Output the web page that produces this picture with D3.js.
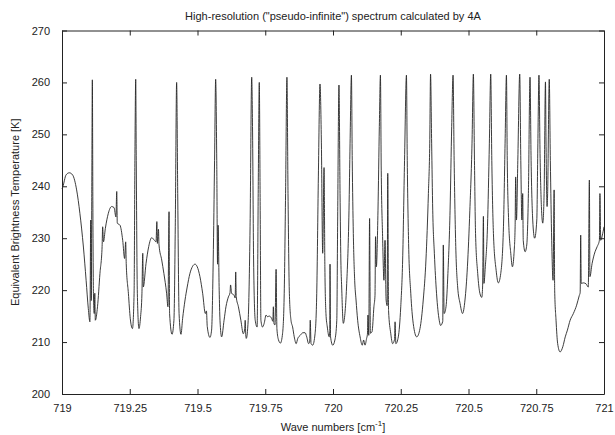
<!DOCTYPE html>
<html>
<head>
<meta charset="utf-8">
<script src="https://cdn.jsdelivr.net/npm/d3@7"></script>
<style>
  body { margin: 0; background: #fff; }
  svg { font-family: "Liberation Sans", Arial, sans-serif; }
</style>
</head>
<body>
<svg id="chart" width="615" height="435"></svg>
<script>
// spectrum: wave number [cm-1] and brightness temperature [K]
const waveNumbers = [
  719.000, 719.003, 719.015, 719.027, 719.039, 719.054, 719.066, 719.079, 719.089, 719.097,
  719.103, 719.106, 719.108, 719.110, 719.112, 719.114, 719.116, 719.119, 719.121, 719.123,
  719.131, 719.140, 719.148, 719.150, 719.153, 719.160, 719.171, 719.183, 719.192, 719.199,
  719.202, 719.204, 719.214, 719.224, 719.231, 719.235, 719.237, 719.245, 719.252, 719.260,
  719.266, 719.269, 719.272, 719.274, 719.278, 719.284, 719.290, 719.295, 719.298, 719.300,
  719.310, 719.320, 719.331, 719.341, 719.347, 719.350, 719.352, 719.356, 719.358, 719.368,
  719.376, 719.386, 719.391, 719.395, 719.397, 719.406, 719.413, 719.418, 719.423, 719.427,
  719.432, 719.439, 719.445, 719.454, 719.462, 719.472,
  719.482, 719.491, 719.499, 719.509, 719.519, 719.529, 719.533, 719.536, 719.546, 719.552,
  719.558, 719.563, 719.567, 719.571, 719.574, 719.576, 719.580, 719.583, 719.589, 719.598,
  719.605, 719.614, 719.620, 719.622, 719.626, 719.635, 719.639, 719.641, 719.643, 719.651,
  719.660, 719.669, 719.674, 719.676, 719.678, 719.680, 719.687, 719.694, 719.700, 719.703,
  719.707, 719.713, 719.720, 719.724, 719.728, 719.731, 719.734, 719.740, 719.746, 719.753,
  719.758, 719.765, 719.774, 719.778, 719.780, 719.782, 719.786, 719.790, 719.793, 719.799,
  719.806, 719.814, 719.820, 719.825, 719.830, 719.834, 719.839, 719.845, 719.851, 719.857,
  719.864, 719.870, 719.879, 719.889, 719.897, 719.903, 719.910, 719.914, 719.916, 719.919,
  719.925, 719.934, 719.940, 719.946, 719.952, 719.957, 719.962,
  719.967, 719.970, 719.974, 719.979, 719.986, 719.988, 719.989, 719.991, 719.999, 720.007,
  720.014, 720.017, 720.022, 720.026, 720.029, 720.032, 720.038, 720.044, 720.050, 720.059,
  720.063, 720.068, 720.071, 720.075, 720.080, 720.085, 720.091, 720.100, 720.108, 720.113,
  720.118, 720.124, 720.127, 720.129, 720.132, 720.135, 720.138, 720.144, 720.151, 720.155,
  720.157, 720.160, 720.166, 720.171, 720.175, 720.178, 720.183, 720.188, 720.192, 720.196,
  720.200, 720.202, 720.205, 720.213, 720.220, 720.227, 720.229, 720.232, 720.241, 720.250,
  720.257, 720.264, 720.271, 720.274, 720.279, 720.287, 720.296, 720.309, 720.321, 720.333,
  720.343, 720.352, 720.357, 720.360, 720.364, 720.368, 720.374, 720.382, 720.392, 720.397,
  720.405, 720.407, 720.410, 720.417, 720.424, 720.432, 720.438, 720.443, 720.447, 720.453,
  720.460, 720.469,
  720.478, 720.487, 720.496, 720.505, 720.513, 720.518, 720.522, 720.526, 720.534, 720.542,
  720.549, 720.552, 720.555, 720.557, 720.562, 720.570, 720.577, 720.582, 720.586, 720.592,
  720.602, 720.610, 720.619, 720.629, 720.635, 720.640, 720.643, 720.648, 720.656, 720.662,
  720.668, 720.672, 720.674, 720.677, 720.682, 720.689, 720.693, 720.697, 720.700, 720.702,
  720.709, 720.715, 720.721, 720.727, 720.731, 720.737, 720.744, 720.752, 720.756, 720.760,
  720.764, 720.769, 720.774, 720.779, 720.784, 720.786, 720.790, 720.792, 720.798, 720.802,
  720.807, 720.812, 720.816, 720.818, 720.823, 720.829, 720.838, 720.848, 720.857, 720.865,
  720.875, 720.887, 720.899, 720.909, 720.912, 720.914, 720.916, 720.924, 720.934, 720.942,
  720.946, 720.948, 720.956, 720.967, 720.975, 720.983, 720.985, 720.988, 720.994, 721.000
];
const brightnessTemps = [
  239.5, 239.9, 242.2, 242.6, 242.2, 239.3, 234.8, 228.3, 221.9, 216.5,
  213.9, 233.5, 218.0, 240.0, 260.5, 235.0, 219.4, 215.5, 219.4, 214.2,
  216.8, 223.2, 228.4, 232.2, 229.3, 231.9, 234.8, 236.1, 235.9, 234.1,
  239.0, 232.9, 232.5, 229.6, 226.1, 229.3, 225.1, 219.4, 214.5, 212.6,
  219.4, 245.0, 260.6, 245.0, 219.4, 212.6, 214.9, 219.4, 227.1, 220.6,
  225.1, 228.4, 230.1, 229.6, 229.3, 233.2, 229.0, 231.7, 228.7, 225.8,
  223.2, 219.4, 216.8, 235.1, 215.5, 211.5, 214.2, 232.2, 260.0, 238.6,
  215.5, 211.5, 214.5, 218.1, 220.6, 223.2,
  224.6, 225.0, 224.5, 222.6, 219.4, 215.5, 216.0, 213.0, 210.9, 212.3,
  225.8, 245.0, 260.6, 245.0, 225.0, 232.5, 220.0, 214.2, 211.0, 214.2,
  216.8, 218.7, 219.5, 221.0, 219.4, 219.0, 218.5, 223.5, 218.7, 216.8,
  214.2, 211.6, 212.5, 214.2, 211.5, 210.7, 214.2, 232.2, 261.0, 251.5,
  225.8, 214.2, 212.9, 238.6, 260.0, 238.6, 214.2, 212.9, 213.6, 215.2,
  214.9, 215.0, 214.5, 214.0, 216.8, 213.6, 213.3, 224.0, 212.6, 210.4,
  209.8, 211.7, 219.4, 238.6, 261.0, 238.6, 219.4, 214.2, 212.9, 211.0,
  209.7, 210.7, 211.3, 211.8, 211.8, 211.0, 209.7, 210.0, 214.2, 209.7,
  209.4, 211.7, 219.4, 241.8, 259.7, 248.9, 227.1,
  243.6, 224.5, 215.5, 212.9, 211.0, 212.0, 225.0, 211.0, 209.4, 210.4,
  214.2, 232.2, 259.5, 238.6, 225.8, 220.6, 213.6, 215.5, 220.6, 235.4,
  248.3, 261.4, 245.0, 230.9, 221.9, 218.1, 214.2, 211.0, 209.4, 210.4,
  209.4, 210.7, 211.5, 215.2, 211.3, 233.8, 211.7, 212.0, 216.8, 219.0,
  230.3, 224.5, 235.4, 251.5, 261.4, 243.1, 230.3, 221.9, 229.6, 218.1,
  217.0, 242.5, 216.1, 211.7, 209.7, 210.5, 213.9, 209.7, 211.0, 216.8,
  225.8, 245.0, 261.4, 245.0, 229.0, 219.4, 213.6, 211.0, 212.6, 218.1,
  225.8, 238.6, 248.3, 261.6, 248.3, 235.4, 227.1, 219.4, 214.2, 213.2,
  214.0, 228.7, 215.5, 216.8, 223.2, 235.4, 251.5, 261.4, 245.0, 228.4,
  220.6, 217.4,
  215.5, 218.1, 224.5, 235.4, 248.3, 261.6, 245.0, 230.9, 223.2, 219.4,
  218.6, 220.6, 234.2, 221.3, 224.5, 232.2, 248.3, 261.6, 245.0, 230.9,
  223.8, 221.4, 223.2, 232.2, 248.3, 261.4, 245.0, 233.5, 227.1, 224.5,
  227.1, 232.2, 241.8, 233.5, 245.0, 261.6, 245.0, 233.5, 238.6, 229.6,
  227.4, 228.7, 238.6, 261.0, 245.0, 233.5, 230.0, 233.5, 248.3, 261.4,
  246.3, 236.1, 232.9, 238.6, 260.1, 248.9, 236.1, 238.6, 260.6, 245.0,
  229.6, 221.9, 239.3, 220.0, 214.2, 209.7, 208.1, 209.1, 211.0, 212.3,
  214.2, 215.5, 217.1, 219.0, 219.5, 230.6, 221.3, 221.4, 221.2, 220.6,
  241.2, 222.6, 225.1, 227.4, 228.4, 229.6, 238.6, 229.6, 230.6, 232.2
];
const xTicks = [719, 719.25, 719.5, 719.75, 720, 720.25, 720.5, 720.75, 721];
const xTickLabels = ["719", "719.25", "719.5", "719.75", "720", "720.25", "720.5", "720.75", "721"];
const yTicks = [200, 210, 220, 230, 240, 250, 260, 270];

const margin = {top: 30.5, right: 11, bottom: 41, left: 62};
const svg = d3.select("#chart");
const width = +svg.attr("width") - margin.left - margin.right;
const height = +svg.attr("height") - margin.top - margin.bottom;

const g = svg.append("g").attr("transform", `translate(${margin.left},${margin.top})`);

const x = d3.scaleLinear().domain([719, 721]).range([0, width]);
const y = d3.scaleLinear().domain([200, 270]).range([height, 0]);

const points = waveNumbers.map((w, i) => [w, brightnessTemps[i]]);

// axes, ticks pointing inward like gnuplot
g.append("g")
  .attr("class", "axis")
  .attr("transform", `translate(0,${height})`)
  .call(d3.axisBottom(x).tickValues(xTicks).tickFormat((d, i) => xTickLabels[i])
    .tickSizeInner(-5).tickSizeOuter(0).tickPadding(10));
g.append("g")
  .attr("class", "axis")
  .call(d3.axisTop(x).tickValues(xTicks).tickFormat("").tickSizeInner(-5).tickSizeOuter(0));
g.append("g")
  .attr("class", "axis")
  .call(d3.axisLeft(y).tickValues(yTicks).tickSizeInner(-5).tickSizeOuter(0).tickPadding(12));
g.append("g")
  .attr("class", "axis")
  .attr("transform", `translate(${width},0)`)
  .call(d3.axisRight(y).tickValues(yTicks).tickFormat("").tickSizeInner(-5).tickSizeOuter(0));

g.selectAll(".axis path, .axis line").attr("stroke", "#222");
g.selectAll(".axis text").attr("fill", "#222").style("font-size", "11px")
  .style("font-family", "'Liberation Sans', Arial, sans-serif");

g.append("path")
  .datum(points)
  .attr("fill", "none")
  .attr("stroke", "#262626")
  .attr("stroke-width", 0.9)
  .attr("d", d3.line().x(d => x(d[0])).y(d => y(d[1])).curve(d3.curveMonotoneX));

svg.append("text")
  .attr("x", margin.left + width / 2)
  .attr("y", 20)
  .attr("text-anchor", "middle")
  .style("font-size", "11px")
  .attr("fill", "#222")
  .text("High-resolution (\"pseudo-infinite\") spectrum calculated by 4A");

const xLabel = svg.append("text")
  .attr("x", margin.left + width / 2)
  .attr("y", 431)
  .attr("text-anchor", "middle")
  .style("font-size", "11px")
  .attr("fill", "#222");
xLabel.append("tspan").text("Wave numbers [cm");
xLabel.append("tspan").attr("dy", -5).style("font-size", "8px").text("-1");
xLabel.append("tspan").attr("dy", 5).text("]");

svg.append("text")
  .attr("transform", `translate(19,${margin.top + height / 2}) rotate(-90)`)
  .attr("text-anchor", "middle")
  .style("font-size", "11px")
  .attr("fill", "#222")
  .text("Equivalent Brightness Temperature [K]");
</script>
</body>
</html>
